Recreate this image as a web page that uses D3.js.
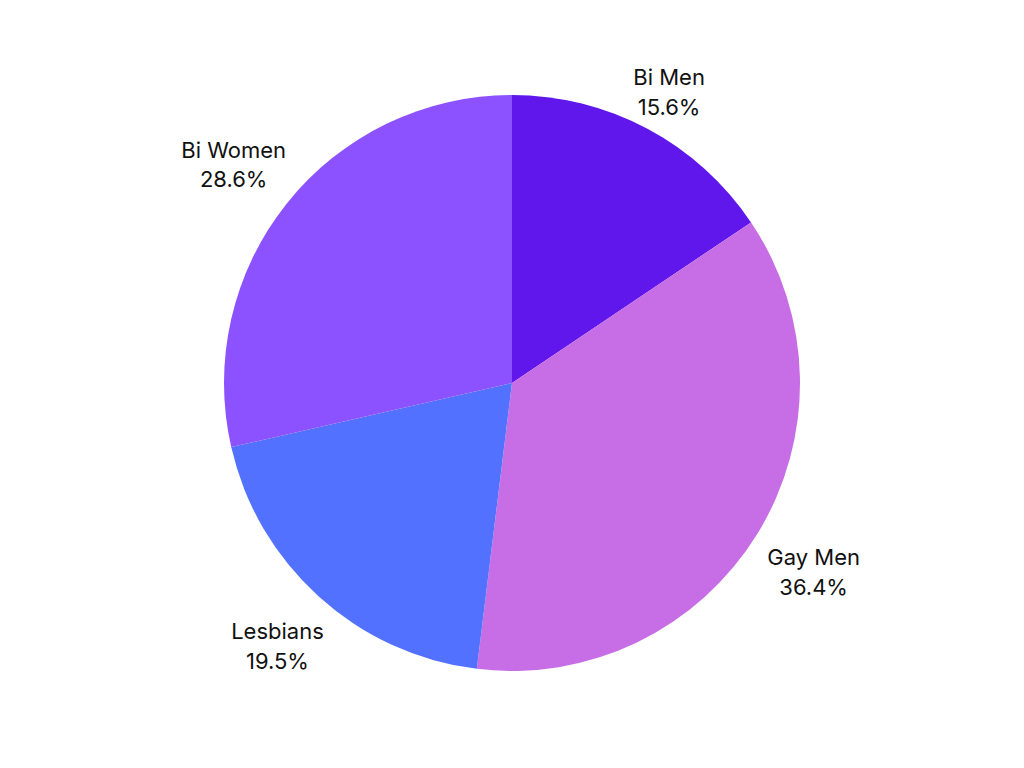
<!DOCTYPE html>
<html><head><meta charset="utf-8">
<script src="https://cdn.jsdelivr.net/npm/d3@7"></script>
<style>html,body{margin:0;padding:0;background:#fff;}svg{display:block;}</style>
</head><body>
<svg id="chart" width="1024" height="768"></svg>
<script>
const categories = ["Bi Men", "Gay Men", "Lesbians", "Bi Women"];
const values = [15.6, 36.4, 19.5, 28.6];
const valueLabels = ["15.6%", "36.4%", "19.5%", "28.6%"];
const colors = ["#5f17eb", "#c76ee6", "#5271ff", "#8c52ff"];

const svg = d3.select("#chart");
const cx = 512, cy = 383, R = 288;
const labelRadius = {"Bi Men": 334, "Gay Men": 354, "Lesbians": 350, "Bi Women": 356};
const g = svg.append("g").attr("transform", `translate(${cx},${cy})`);
const data = categories.map((c, i) => ({cat: c, v: values[i], lab: valueLabels[i], col: colors[i]}));
const pie = d3.pie().value(d => d.v).sort(null);
const arcs = pie(data);
const arc = d3.arc().innerRadius(0).outerRadius(R);

g.selectAll("path").data(arcs).join("path")
  .attr("d", arc).attr("fill", d => d.data.col);

const t = g.selectAll("text").data(arcs).join("text")
  .attr("transform", d => {
    const r = labelRadius[d.data.cat];
    return `translate(${d3.arc().innerRadius(r).outerRadius(r).centroid(d)})`;
  })
  .attr("text-anchor", "middle")
  .attr("font-family", "Inter, 'Open Sans', sans-serif")
  .attr("font-size", 22)
  .attr("fill", "#111");
t.append("tspan").attr("x", 0).attr("dy", "-0.15em").text(d => d.data.cat);
t.append("tspan").attr("x", 0).attr("dy", "1.35em").text(d => d.data.lab);
</script>
</body></html>
